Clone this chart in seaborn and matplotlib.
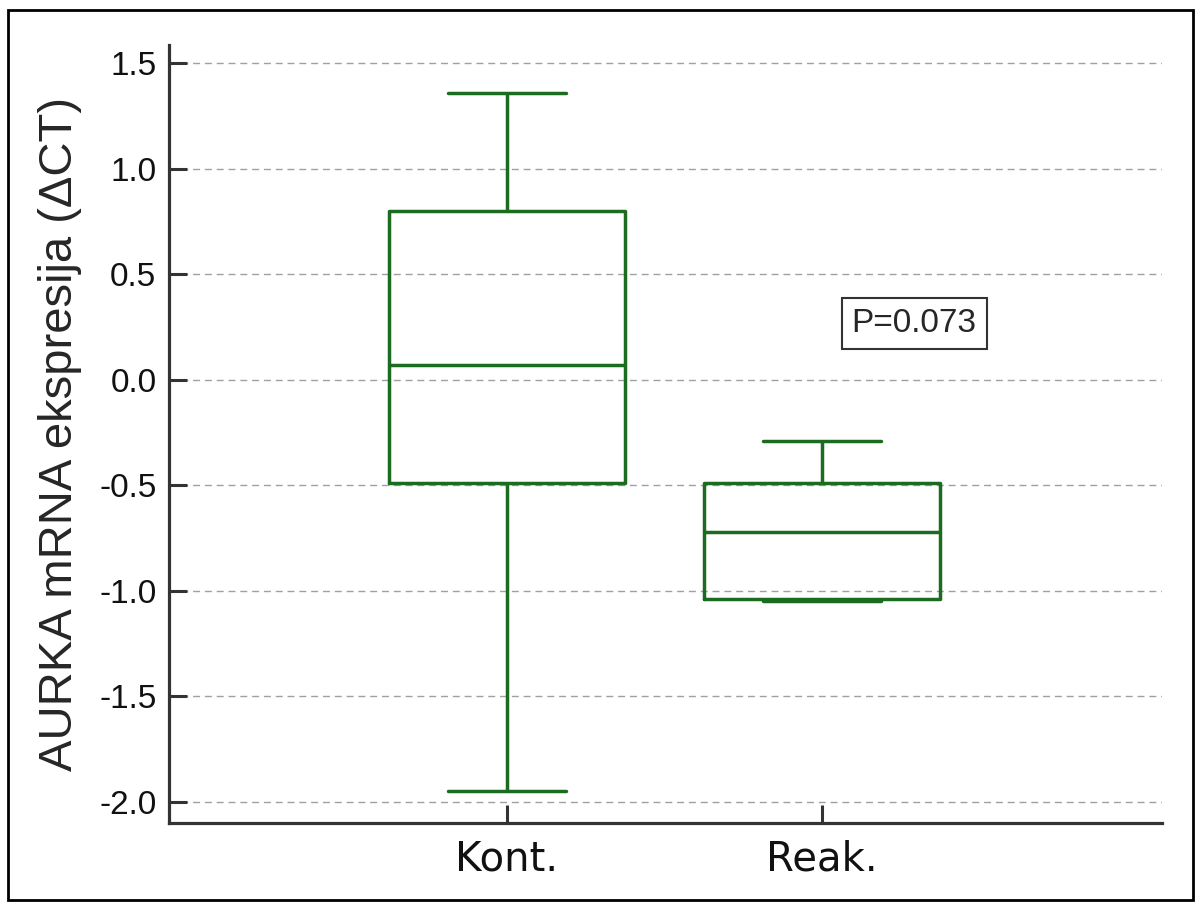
"""
AURKA mRNA expression box plot (Kont. vs Reak.).
"""

import numpy as np
import pandas as pd
import matplotlib.pyplot as plt
import seaborn as sns
from matplotlib.patches import Rectangle

# values: min, Q1, median, Q3, max per group
groups = ['Kont.', 'Reak.']
kont_values = [-1.95, -0.49, 0.07, 0.80, 1.36]
reak_values = [-1.05, -1.04, -0.72, -0.49, -0.29]
y_ticks = [-2.0, -1.5, -1.0, -0.5, 0.0, 0.5, 1.0, 1.5]
p_label = 'P=0.073'

df = pd.DataFrame({
    'group': [groups[0]] * len(kont_values) + [groups[1]] * len(reak_values),
    'value': kont_values + reak_values,
})

sns.set_style('white')
plt.rcParams['font.family'] = ['Liberation Sans', 'DejaVu Sans']

green = '#1b6b20'

fig = plt.figure(figsize=(12.01, 9.08), dpi=100)
ax = fig.add_axes([0.1407, 0.0936, 0.8268, 0.8568])

sns.boxplot(data=df, x='group', y='value', order=groups, ax=ax,
            fill=False, color=green, linewidth=2.5, width=0.75,
            whis=(0, 100), showfliers=False)

ax.set_xlim(-1.073, 2.079)
ax.set_ylim(-2.0995, 1.585)
ax.set_yticks(y_ticks)
ax.set_yticklabels([f'{v:.1f}' for v in y_ticks])

# grid and spines
ax.yaxis.grid(True, linestyle=(0, (5, 3.5)), color='#a0a0a0', linewidth=1.0)
ax.xaxis.grid(False)
ax.set_axisbelow(True)
for side in ['top', 'right']:
    ax.spines[side].set_visible(False)
for side in ['left', 'bottom']:
    ax.spines[side].set_color('#333333')
    ax.spines[side].set_linewidth(2.3)

ax.tick_params(axis='y', direction='in', length=13, width=2.2, color='#333333',
               labelsize=24, pad=9, labelcolor='#111111', left=True)
ax.tick_params(axis='x', direction='in', length=13, width=2.2, color='#333333',
               labelsize=29, pad=12, labelcolor='#111111', bottom=True)
for lbl in ax.get_xticklabels():
    lbl.set_family('DejaVu Sans')

ax.set_xlabel('')
ax.set_ylabel('AURKA mRNA ekspresija (\u0394CT)', fontsize=34, labelpad=12)

# p-value box
ax.text(1.292, 0.264, p_label, fontsize=24, ha='center', va='center',
        bbox=dict(boxstyle='square,pad=0.3', facecolor='white',
                  edgecolor='#333333', linewidth=1.5))

# outer frame
fig.patches.append(Rectangle((0.007, 0.009), 0.986, 0.98, transform=fig.transFigure,
                             fill=False, edgecolor='black', linewidth=2))

plt.savefig('out.png', dpi=100)
